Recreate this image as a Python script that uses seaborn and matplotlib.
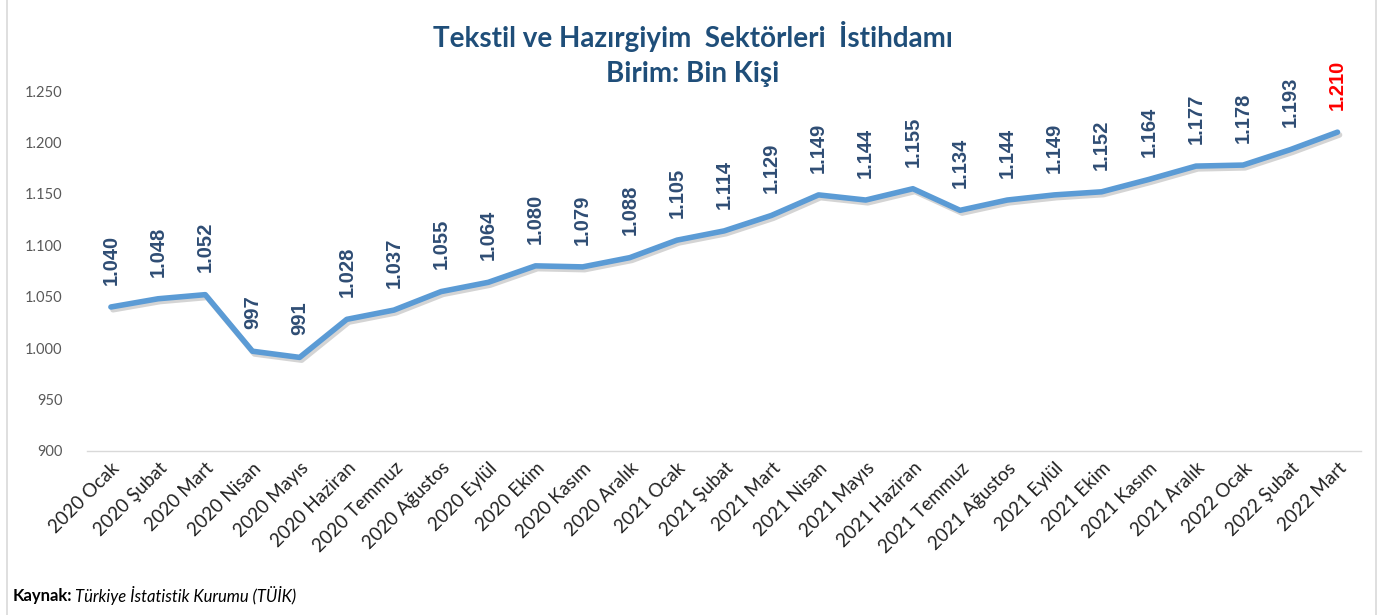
import matplotlib
matplotlib.use("Agg")
import matplotlib.pyplot as plt
import matplotlib.patheffects as pe
import seaborn as sns
import pandas as pd
from matplotlib.patches import Rectangle

aylar = ["2020 Ocak", "2020 Şubat", "2020 Mart", "2020 Nisan", "2020 Mayıs", "2020 Haziran",
         "2020 Temmuz", "2020 Ağustos", "2020 Eylül", "2020 Ekim", "2020 Kasım", "2020 Aralık",
         "2021 Ocak", "2021 Şubat", "2021 Mart", "2021 Nisan", "2021 Mayıs", "2021 Haziran",
         "2021 Temmuz", "2021 Ağustos", "2021 Eylül", "2021 Ekim", "2021 Kasım", "2021 Aralık",
         "2022 Ocak", "2022 Şubat", "2022 Mart"]
istihdam = [1040, 1048, 1052, 997, 991, 1028, 1037, 1055, 1064, 1080, 1079, 1088,
            1105, 1114, 1129, 1149, 1144, 1155, 1134, 1144, 1149, 1152, 1164, 1177,
            1178, 1193, 1210]
y_ticks = [900, 950, 1000, 1050, 1100, 1150, 1200, 1250]

def fmt(v):
    return f"{v:,}".replace(",", ".")

df = pd.DataFrame({"ay": aylar, "deger": istihdam})

sns.set_theme(style="white")
plt.rcParams["font.family"] = ["Lato", "DejaVu Sans"]

fig = plt.figure(figsize=(13.86, 6.15), dpi=100)
ax = fig.add_axes([0.063, 0.2667, 0.919, 0.5853])

line_color = "#5B9BD5"
sns.lineplot(data=df, x="ay", y="deger", sort=False, ax=ax, color=line_color, linewidth=4,
             path_effects=[pe.SimpleLineShadow(offset=(1.5, -2), shadow_color="#555555", alpha=0.25),
                           pe.Normal()])

ax.set_xlim(-0.5, len(aylar) - 0.5)
ax.set_ylim(900, 1250)
ax.set_yticks(y_ticks)
ax.set_yticklabels([fmt(v) for v in y_ticks], fontsize=10.5, color="#595959")
ax.set_xticks(range(len(aylar)))
ax.set_xticklabels(aylar, rotation=45, ha="right", rotation_mode="anchor", fontsize=13.5, color="#222222")
ax.tick_params(axis="x", length=0, pad=6)
ax.tick_params(axis="y", length=0, pad=18)
ax.set_xlabel("")
ax.set_ylabel("")
for s in ["top", "right", "left"]:
    ax.spines[s].set_visible(False)
ax.spines["bottom"].set_color("#D9D9D9")
ax.spines["bottom"].set_linewidth(1)

label_color = "#2F4D74"
for i, v in enumerate(istihdam):
    c = "#FF0000" if i == len(istihdam) - 1 else label_color
    ax.annotate(fmt(v), xy=(i, v), xytext=(0, 16), textcoords="offset points",
                rotation=90, ha="center", va="bottom", fontsize=14.5, fontweight="bold",
                color=c, family=["Liberation Sans", "DejaVu Sans"], annotation_clip=False)

fig.text(0.5, 0.941, "Tekstil ve Hazırgiyim  Sektörleri  İstihdamı", ha="center", va="center",
         fontsize=20, fontweight="bold", color="#1F4E79")
fig.text(0.5, 0.880, "Birim: Bin Kişi", ha="center", va="center",
         fontsize=20, fontweight="bold", color="#1F4E79")

t1 = fig.text(0.009, 0.031, "Kaynak:", ha="left", va="center", fontsize=12, fontweight="bold", color="#000000")
fig.canvas.draw()
bb = t1.get_window_extent()
x_end = bb.x1 / fig.bbox.width
fig.text(x_end + 0.002, 0.031, "Türkiye İstatistik Kurumu (TÜİK)", ha="left", va="center",
         fontsize=12, style="italic", color="#000000")

fig.patches.append(Rectangle((0.005, -0.01), 0.988, 1.03, transform=fig.transFigure,
                             fill=False, edgecolor="#D9D9D9", linewidth=1.2))

fig.savefig("out.png", dpi=100)
